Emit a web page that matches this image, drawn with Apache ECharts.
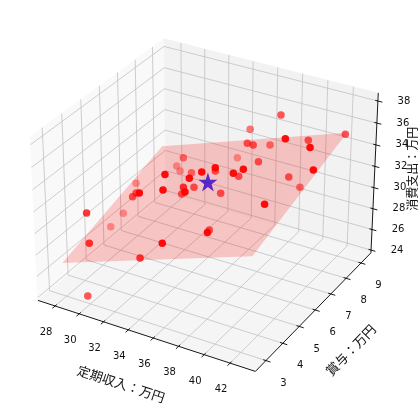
<!DOCTYPE html>
<html><head><meta charset="utf-8">
<script src="https://cdn.jsdelivr.net/npm/echarts@6/dist/echarts.min.js"></script>
<style>html,body{margin:0;padding:0;background:#fff}#c{width:420px;height:406px}</style>
</head><body><div id="c"></div>
<script>
// ---- data ----
const income = [32.12,30.55,30.85,32.88,36.70,34.60,36.08,34.26,34.59,36.06,33.64,34.75,28.32,33.42,30.86,30.72,29.28,28.07,27.52,29.96,35.60,33.23,38.05,35.93,38.25,35.71,41.01,40.34,42.60,42.47,36.71,37.10,37.21,34.19,37.70,39.08,38.56,36.77,37.42,35.26,43.17,39.80,39.79,35.98,40.91,29.74];
const bonus  = [6.87,7.58,7.57,6.80,4.65,4.10,4.40,5.96,5.12,4.17,5.69,3.88,6.74,3.51,5.04,4.94,3.40,6.15,5.79,3.06,3.22,3.61,3.99,5.64,8.15,8.23,6.24,8.23,6.48,8.85,7.30,7.36,8.32,8.61,7.23,5.27,5.08,6.75,4.89,6.48,6.25,7.48,8.22,6.27,5.14,3.03];
const spend  = [32.74,30.52,30.16,31.68,35.85,35.69,35.42,31.90,33.15,34.51,31.44,34.64,29.28,34.44,31.51,31.25,31.39,27.12,26.15,29.32,31.08,28.31,31.78,28.94,36.93,34.75,38.08,35.17,37.48,35.59,34.96,34.85,33.64,31.12,33.68,36.03,35.76,32.67,36.14,33.04,35.98,32.62,30.65,31.49,33.68,24.35];
const starPoint = [35.01, 6.23, 32.27];
const planeCoef = [13.99, 0.397, 0.58];   // z = c0 + c1*x + c2*y
const planeX = [27.72, 42.77];
const planeY = [3.02, 8.70];
const xTicks = [28,30,32,34,36,38,40,42];
const yTicks = [3,4,5,6,7,8,9];
const zTicks = [24,26,28,30,32,34,36,38];
const xLim = [26.56, 43.93];
const yLim = [2.387, 9.681];
const zLim = [23.73, 38.73];
const xTitle = '定期収入：万円', yTitle = '賞与：万円', zTitle = '消費支出：万円';

// ---- view (matplotlib default 3D camera) ----
const ELEV = 30*Math.PI/180, AZIM = -60*Math.PI/180, DIST = 10, FOCAL = 1;
const kk = 1.8294640721620434*25/24/Math.sqrt(41);
const asp = [4*kk, 4*kk, 3*kk];
const R = asp.map(a => a/2);
const w = [Math.cos(ELEV)*Math.cos(AZIM), Math.cos(ELEV)*Math.sin(AZIM), Math.sin(ELEV)];
let u = [-w[1], w[0], 0]; const un = Math.hypot(u[0], u[1]); u = u.map(c => c/un);
const v = [w[1]*u[2]-w[2]*u[1], w[2]*u[0]-w[0]*u[2], w[0]*u[1]-w[1]*u[0]];
function proj(x, y, z) {
  const d = [(x-xLim[0])/(xLim[1]-xLim[0])*asp[0]-R[0],
             (y-yLim[0])/(yLim[1]-yLim[0])*asp[1]-R[1],
             (z-zLim[0])/(zLim[1]-zLim[0])*asp[2]-R[2]];
  const X = u[0]*d[0]+u[1]*d[1]+u[2]*d[2];
  const Y = v[0]*d[0]+v[1]*d[1]+v[2]*d[2];
  const D = w[0]*d[0]+w[1]*d[1]+w[2]*d[2];
  const s = FOCAL/(DIST-D);
  return [X*s, Y*s, D];
}
// layout of the projection plane on the page
const CX = 207.5, CY = 197, SC = 2093, W = 420, H = 406;

const NUMF = "'DejaVu Sans', sans-serif";
const JPF = "'Noto Sans CJK JP', 'DejaVu Sans', sans-serif";

function renderBox(params, api) {
  const c = (x, y, z) => { const p = proj(x, y, z); return api.coord([p[0], p[1]]); };
  const [x0, x1] = xLim, [y0, y1] = yLim, [z0, z1] = zLim;
  const ch = [];
  const poly = (pts, fill) => ch.push({type:'polygon', shape:{points:pts}, style:{fill:fill, stroke:fill, lineWidth:0.5}});
  const line = (pts, stroke, lw) => ch.push({type:'polyline', shape:{points:pts}, style:{stroke:stroke, lineWidth:lw, fill:null}});
  const text = (t, p, rot, size, fam) => ch.push({type:'text', x:p[0], y:p[1], rotation:rot,
      style:{text:t, fill:'#111', fontSize:size, fontFamily:fam, align:'center', verticalAlign:'middle'}});
  // panes
  poly([c(x0,y0,z0), c(x1,y0,z0), c(x1,y1,z0), c(x0,y1,z0)], '#f5f5f5');
  poly([c(x0,y0,z0), c(x0,y1,z0), c(x0,y1,z1), c(x0,y0,z1)], '#f9f9f9');
  poly([c(x0,y1,z0), c(x1,y1,z0), c(x1,y1,z1), c(x0,y1,z1)], '#f2f2f2');
  const GC = '#c2c2c2', GW = 0.8;
  xTicks.forEach(t => line([c(t,y0,z0), c(t,y1,z0), c(t,y1,z1)], GC, GW));
  yTicks.forEach(t => line([c(x1,t,z0), c(x0,t,z0), c(x0,t,z1)], GC, GW));
  zTicks.forEach(t => line([c(x0,y0,t), c(x0,y1,t), c(x1,y1,t)], GC, GW));
  // axis lines
  line([c(x0,y0,z0), c(x1,y0,z0)], '#000', 0.9);
  line([c(x1,y0,z0), c(x1,y1,z0)], '#000', 0.9);
  line([c(x1,y1,z0), c(x1,y1,z1)], '#000', 0.9);
  const dy = (y1-y0), dx = (x1-x0);
  const TIN = 0.012, TOUT = 0.02;
  xTicks.forEach(t => {
    line([c(t, y0+TIN*dy, z0), c(t, y0-TOUT*dy, z0)], '#000', 0.9);
    const p = c(t, y0, z0); text(String(t), [p[0]-9, p[1]+26.5], 0, 10, NUMF);
  });
  yTicks.forEach(t => {
    line([c(x1-TIN*dx, t, z0), c(x1+TOUT*dx, t, z0)], '#000', 0.9);
    const p = c(x1, t, z0); text(String(t), [p[0]+17.5, p[1]+22.5], 0, 10, NUMF);
  });
  zTicks.forEach(t => {
    line([c(x1-TIN*dx, y1, t), c(x1+TOUT*dx, y1, t)], '#000', 0.9);
    const p = c(x1, y1, t); text(String(t), [p[0]+26, p[1]], 0, 10, NUMF);
  });
  // axis titles
  const ang = (a, b) => Math.atan2(-(b[1]-a[1]), b[0]-a[0]);
  let a = c(x0,y0,z0), b = c(x1,y0,z0);
  text(xTitle, [(a[0]+b[0])/2-25.5, (a[1]+b[1])/2+48], ang(a,b), 13, JPF);
  a = c(x1,y0,z0); b = c(x1,y1,z0);
  text(yTitle, [(a[0]+b[0])/2+37.5, (a[1]+b[1])/2+38], ang(a,b), 13, JPF);
  a = c(x1,y1,z0); b = c(x1,y1,z1);
  text(zTitle, [(a[0]+b[0])/2+37.5, (a[1]+b[1])/2-4], Math.PI/2, 12, JPF);
  return {type:'group', children:ch};
}

function renderPlane(params, api) {
  const c = (x, y) => { const z = planeCoef[0]+planeCoef[1]*x+planeCoef[2]*y; const p = proj(x, y, z); return api.coord([p[0], p[1]]); };
  return {type:'polygon', shape:{points:[c(planeX[0],planeY[0]), c(planeX[1],planeY[0]), c(planeX[1],planeY[1]), c(planeX[0],planeY[1])]},
          style:{fill:'rgba(255,0,0,0.2)'}};
}

// scatter points with depth shading (near = opaque)
const projPts = income.map((x, i) => proj(x, bonus[i], spend[i]));
const Ds = projPts.map(p => p[2]);
const dmin = Math.min(...Ds), dmax = Math.max(...Ds);
const pts = projPts.map(p => ({value:[p[0], p[1]], depth:p[2],
      itemStyle:{opacity: 0.35 + 0.6*(p[2]-dmin)/(dmax-dmin)}}))
  .sort((a, b) => a.depth - b.depth)
  .map(o => ({value:o.value, itemStyle:o.itemStyle}));
const sp = proj(starPoint[0], starPoint[1], starPoint[2]);

const chart = echarts.init(document.getElementById('c'), null, {renderer:'canvas'});
chart.setOption({
  animation:false,
  backgroundColor:'#ffffff',
  grid:{left:0, right:0, top:0, bottom:0},
  xAxis:{type:'value', min:-CX/SC, max:(W-CX)/SC, show:false},
  yAxis:{type:'value', min:(CY-H)/SC, max:CY/SC, show:false},
  series:[
    {type:'custom', z:1, silent:true, clip:false, data:[[0,0]], renderItem:renderBox},
    {type:'scatter', z:3, silent:true, symbolSize:7.5, data:pts, itemStyle:{color:'#ff0000'}},
    {type:'scatter', z:4, silent:true, symbol:'path://M50,0 L61.2,34.5 L97.6,34.5 L68.2,55.9 L79.4,90.5 L50,69.1 L20.6,90.5 L31.8,55.9 L2.4,34.5 L38.8,34.5 Z',
      symbolSize:19, data:[[sp[0], sp[1]]], itemStyle:{color:'#0000ff'}},
    {type:'custom', z:5, silent:true, clip:false, data:[[0,0]], renderItem:renderPlane}
  ]
});
</script></body></html>
